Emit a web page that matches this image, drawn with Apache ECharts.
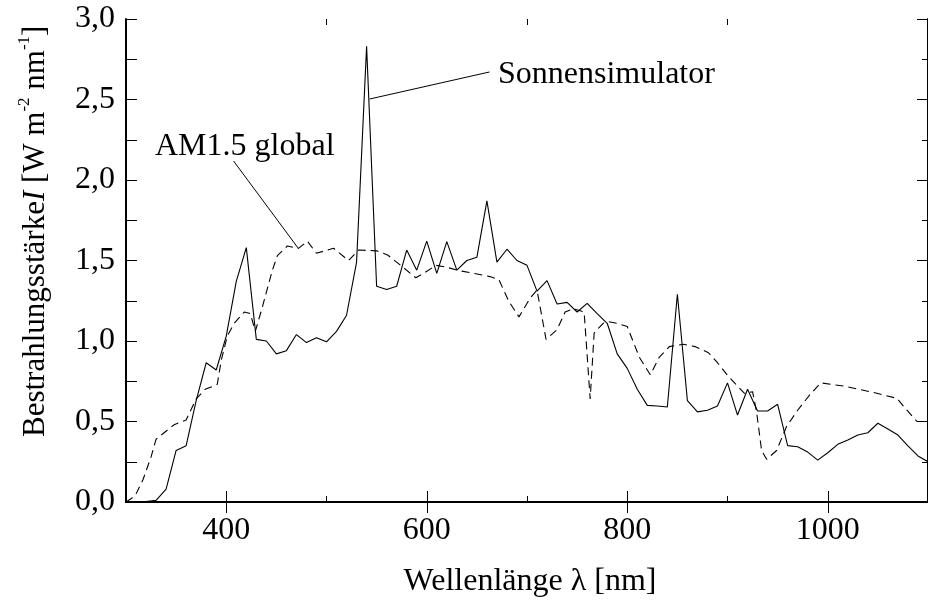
<!DOCTYPE html>
<html><head><meta charset="utf-8">
<script src="https://cdn.jsdelivr.net/npm/echarts@6/dist/echarts.min.js"></script>
<style>html,body{margin:0;padding:0;background:#fff;overflow:hidden}#c{width:928px;height:603px}</style>
</head><body><div id="c"></div>
<script>
// Sonnensimulator (solid)
const simX = [300,310,320,330,340,350,360,370,380,390,400,410,420,430,440,450,460,470,480,490,500,510,520,530,540,550,560,570,580,590,600,610,620,630,640,650,660,670,680,690,700,710,720,730,740,750,760,770,780,790,800,810,820,830,840,850,860,870,880,890,900,910,920,930,940,950,960,970,980,990,1000,1010,1020,1030,1040,1050,1060,1070,1080,1090,1100];
const simY = [0,0,0.003,0.01,0.08,0.32,0.35,0.63,0.865,0.82,1.03,1.37,1.58,1.01,1.0,0.92,0.94,1.04,0.99,1.02,0.995,1.06,1.16,1.49,2.83,1.34,1.32,1.34,1.565,1.44,1.62,1.42,1.617,1.44,1.5,1.52,1.87,1.49,1.57,1.5,1.47,1.31,1.375,1.23,1.24,1.18,1.234,1.17,1.11,0.92,0.83,0.7,0.6,0.596,0.59,1.29,0.63,0.56,0.57,0.596,0.74,0.54,0.7,0.565,0.565,0.607,0.35,0.343,0.31,0.26,0.306,0.358,0.385,0.416,0.43,0.489,0.453,0.416,0.348,0.286,0.25];
// AM1.5 global (dashed)
const amX = [300,305,310,317,325,330,338,348,360,370,379,391,395,401,408,418,424,429,436,446,451,461,472,481,490,507,518,522,532,550,561,574,589,598,609,619,632,647,663,672,682,692,703,710,719,730,738,746,757,763,767,776,781,790,800,812,823,832,842,856,868,881,890,901,908,917,925,929,934,939,949,959,970,982,993,1016,1046,1069,1079,1089,1100];
const amY = [0,0.02,0.05,0.14,0.28,0.39,0.43,0.48,0.51,0.64,0.7,0.73,0.88,1.03,1.11,1.18,1.17,1.06,1.21,1.44,1.53,1.59,1.575,1.62,1.545,1.576,1.52,1.5,1.565,1.56,1.534,1.47,1.393,1.424,1.47,1.46,1.437,1.42,1.4,1.38,1.245,1.15,1.265,1.317,1.01,1.07,1.18,1.2,1.18,0.64,1.05,1.11,1.12,1.11,1.09,0.9,0.79,0.9,0.965,0.98,0.965,0.927,0.865,0.78,0.733,0.675,0.685,0.56,0.32,0.265,0.32,0.47,0.57,0.665,0.74,0.72,0.68,0.644,0.57,0.5,0.5];
// tick values
const xMajorTicks = [400,600,800,1000];
const xMinorTicks = [300,500,700,900,1100];
// annotation leader lines (data coordinates)
const simLeader = [[543,2.503],[662.6,2.671]];
const amLeader = [[407.3,2.118],[471.6,1.578]];

const FONT = 'Liberation Serif';
const chart = echarts.init(document.getElementById('c'), null, {renderer:'canvas'});
const axisCommon = {min:300,max:1100,splitLine:{show:false}};
const lineBlack = {show:true,lineStyle:{color:'#000',width:2}};
const opt = {
  backgroundColor:'#fff',
  animation:false,
  grid:{left:126,top:19,right:-7,bottom:101,containLabel:false},
  xAxis:[
    Object.assign({type:'value',position:'bottom',axisLine:lineBlack,
      axisTick:{show:true,inside:true,length:11,customValues:xMajorTicks,lineStyle:{color:'#000',width:1}},
      axisLabel:{show:true,customValues:xMajorTicks,margin:13,color:'#000',fontFamily:FONT,fontSize:32,formatter:v=>String(v)}},axisCommon),
    Object.assign({type:'value',position:'top',axisLine:lineBlack,
      axisTick:{show:true,inside:true,length:11,customValues:xMajorTicks,lineStyle:{color:'#000',width:1}},
      axisLabel:{show:false}},axisCommon),
    Object.assign({type:'value',position:'bottom',axisLine:{show:false},
      axisTick:{show:true,inside:true,length:6,customValues:xMinorTicks,lineStyle:{color:'#000',width:1}},
      axisLabel:{show:false}},axisCommon),
    Object.assign({type:'value',position:'top',axisLine:{show:false},
      axisTick:{show:true,inside:true,length:6,customValues:xMinorTicks,lineStyle:{color:'#000',width:1}},
      axisLabel:{show:false}},axisCommon)
  ],
  yAxis:[
    {type:'value',position:'left',min:0,max:3,interval:0.5,axisLine:lineBlack,splitLine:{show:false},
      axisTick:{show:true,inside:true,length:11,lineStyle:{color:'#000',width:1}},
      minorTick:{show:true,splitNumber:2,length:11,lineStyle:{color:'#000',width:1}},
      axisLabel:{margin:11,color:'#000',fontFamily:FONT,fontSize:32,formatter:v=>v.toFixed(1).replace('.',',')}},
    {type:'value',position:'right',min:0,max:3,interval:0.5,axisLine:lineBlack,splitLine:{show:false},
      axisTick:{show:true,inside:true,length:11,lineStyle:{color:'#000',width:1}},
      minorTick:{show:true,splitNumber:2,length:6,lineStyle:{color:'#000',width:1}},
      axisLabel:{show:false}}
  ],
  series:[
    {name:'Sonnensimulator',type:'line',xAxisIndex:0,yAxisIndex:0,showSymbol:false,silent:true,
      data:simX.map((x,i)=>[x,simY[i]]),lineStyle:{color:'#000',width:1.1},
      markLine:{silent:true,symbol:'none',label:{show:false},animation:false,
        lineStyle:{color:'#000',width:1,type:'solid'},
        data:[[{coord:simLeader[0]},{coord:simLeader[1]}],[{coord:amLeader[0]},{coord:amLeader[1]}]]}},
    {name:'AM1.5 global',type:'line',xAxisIndex:0,yAxisIndex:0,showSymbol:false,silent:true,
      data:amX.map((x,i)=>[x,amY[i]]),lineStyle:{color:'#000',width:1.1,type:[8,5]}}
  ],
  graphic:[
    {type:'text',x:498,y:75,style:{text:'Sonnensimulator',font:'32px "Liberation Serif"',fill:'#000',align:'left',verticalAlign:'middle'}},
    {type:'text',x:155,y:147,style:{text:'AM1.5 global',font:'32px "Liberation Serif"',fill:'#000',align:'left',verticalAlign:'middle'}},
    {type:'text',x:530,y:582,style:{text:'Wellenlänge λ [nm]',font:'32px "Liberation Serif"',fill:'#000',align:'center',verticalAlign:'middle'}},
    {type:'text',x:36,y:437,rotation:Math.PI/2,style:{
      text:'{a|Bestrahlungsstärke}{i|I}{a| [W m}{s|-2}{a| nm}{s|-1}{a|]}',
      align:'left',verticalAlign:'middle',fill:'#000',
      rich:{
        a:{fontFamily:FONT,fontSize:31,lineHeight:40,fill:'#000'},
        i:{fontFamily:FONT,fontSize:31,fontStyle:'italic',lineHeight:40,fill:'#000'},
        s:{fontFamily:FONT,fontSize:17,lineHeight:17,verticalAlign:'top',fill:'#000'}
      }}}
  ]
};
chart.setOption(opt);
</script></body></html>
